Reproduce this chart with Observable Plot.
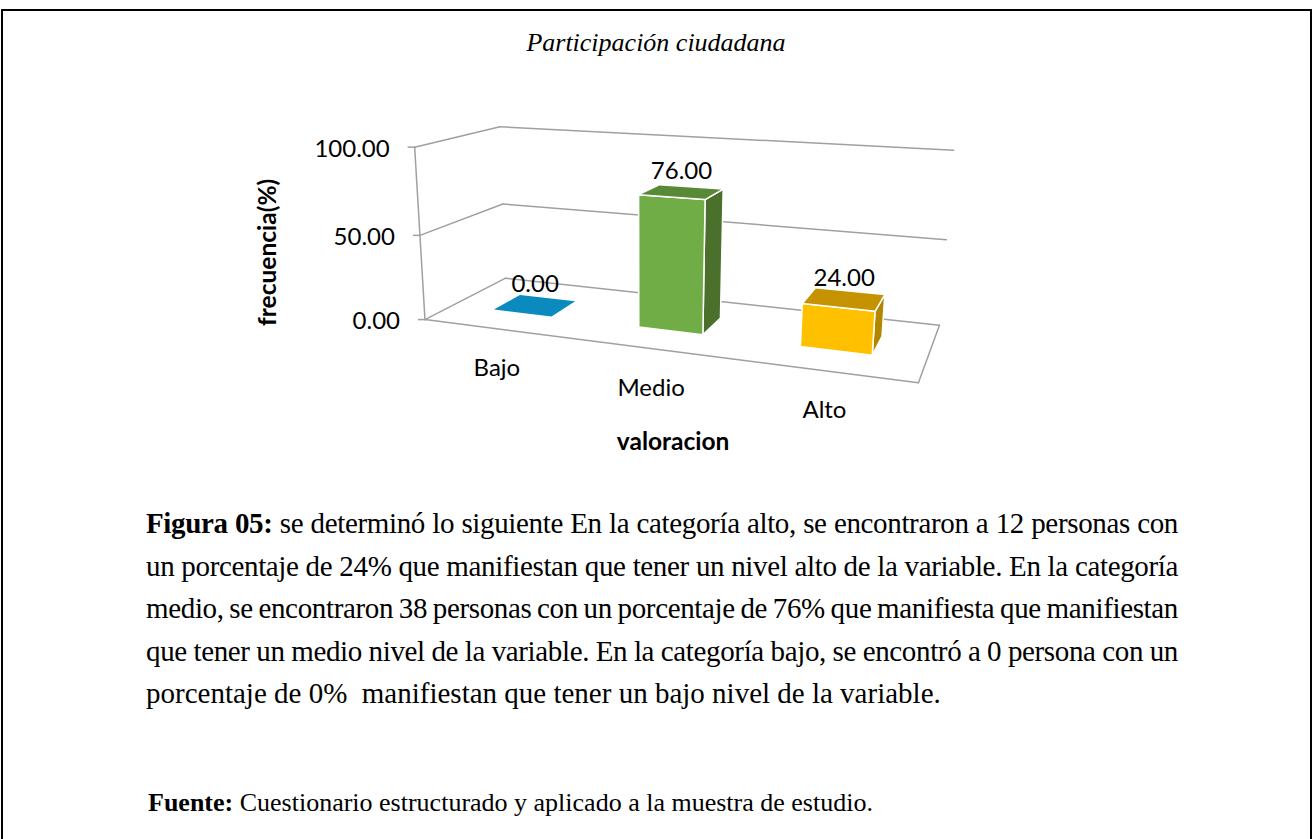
<!DOCTYPE html>
<html><head><meta charset="utf-8">
<script src="https://cdn.jsdelivr.net/npm/d3@7"></script>
<script src="https://cdn.jsdelivr.net/npm/@observablehq/plot@0.6"></script>
<style>
html,body{margin:0;padding:0;background:#fff;}
#page{position:relative;width:1312px;height:839px;overflow:hidden;background:#fff;}
#frame{position:absolute;left:1px;top:9px;width:1307px;height:900px;border:2px solid #000;border-bottom:none;}
#title{position:absolute;left:0;width:1312px;top:28px;text-align:center;font:italic 26px "Liberation Serif","Times New Roman",serif;color:#000;}
#chart{position:absolute;left:0;top:0;}
#caption{position:absolute;left:146px;top:502px;width:1032px;font:29px "Liberation Serif","Times New Roman",serif;color:#000;}
#caption div{height:42.5px;line-height:42.5px;letter-spacing:-0.35px;word-spacing:-2px;text-align:justify;text-align-last:justify;}
#caption div.last{letter-spacing:0;word-spacing:0;text-align-last:left;}
#source{position:absolute;left:148px;top:788px;font:26px "Liberation Serif","Times New Roman",serif;color:#000;}
</style></head>
<body><div id="page">
<div id="frame"></div>
<div id="chart"></div>
<div id="title">Participación ciudadana</div>
<div id="caption">
<div><b>Figura 05:</b> se determinó lo siguiente En la categoría alto, se encontraron a 12 personas con</div>
<div>un porcentaje de 24% que manifiestan que tener un nivel alto de la variable. En la categoría</div>
<div>medio, se encontraron 38 personas con un porcentaje de 76% que manifiesta que manifiestan</div>
<div>que tener un medio nivel de la variable. En la categoría bajo, se encontró a 0 persona con un</div>
<div class="last">porcentaje de 0%&nbsp; manifiestan que tener un bajo nivel de la variable.</div>
</div>
<div id="source"><b>Fuente:</b> Cuestionario estructurado y aplicado a la muestra de estudio.</div>
</div>
<script>
// ---- data ----
const categories = ["Bajo", "Medio", "Alto"];
const values = [0, 76, 24];
const yTicks = [0, 50, 100];
const yTickLabels = ["0.00", "50.00", "100.00"];
const xTitle = "valoracion";
const yTitle = "frecuencia(%)";

// ---- styles ----
const palette = [
  {front: "#1a9ad6", side: "#0a6e99", top: "#0b8ac0"},
  {front: "#70ad47", side: "#4a702c", top: "#588937"},
  {front: "#ffc000", side: "#b38600", top: "#c59300"}
];
const gridColor = "#a0a0a0";
const font = "Lato, 'Open Sans', sans-serif";

// ---- 3D view: perspective camera (homogeneous 3x4) mapping the unit world box
// (X across categories, Y value share, Z depth front->back) onto the page ----
const camera = [
  [345.754, -29.0440, 153.964, 424.493],
  [1.63605, -179.075, -1.11097, 319.102],
  [-0.160895, -0.0451662, 0.145188, 1]
];
function proj(X, Y, Z) {
  const h = camera.map(r => r[0]*X + r[1]*Y + r[2]*Z + r[3]);
  return {x: h[0]/h[2], y: h[1]/h[2]};
}

// world scales
const xWorld = d3.scaleBand().domain(categories).range([0, 1]);
const yWorld = d3.scaleLinear().domain([0, 100]).range([0, 1]);
const barFrac = 0.41, z0 = 0.33, z1 = 0.67;

// ---- derived geometry ----
const lines = [];
yTicks.forEach(t => {
  const y = yWorld(t);
  lines.push([proj(0, y, 0), proj(0, y, 1)]);   // side wall gridline
  lines.push([proj(0, y, 1), proj(1, y, 1)]);   // back wall gridline
});
lines.push([proj(0, 0, 0), proj(0, 1, 0)]);     // value axis
lines.push([proj(0, 0, 0), proj(1, 0, 0)]);     // floor front edge
lines.push([proj(1, 0, 0), proj(1, 0, 1)]);     // floor right edge
const lineData = lines.flatMap((l, i) => l.map(p => ({...p, id: i})));
const tickData = yTicks.map((t, i) => ({...proj(0, yWorld(t), 0), label: yTickLabels[i]}));

const faces = [];
categories.forEach((c, i) => {
  const v = yWorld(values[i]), pal = palette[i];
  const x0 = xWorld(c) + xWorld.bandwidth()*(1 - barFrac)/2, x1 = x0 + xWorld.bandwidth()*barFrac;
  if (v > 0) {
    faces.push({fill: pal.side, stroke: "#fff", pts: [proj(x1,0,z0), proj(x1,0,z1), proj(x1,v,z1), proj(x1,v,z0)]});
    faces.push({fill: pal.front, stroke: "#fff", pts: [proj(x0,0,z0), proj(x1,0,z0), proj(x1,v,z0), proj(x0,v,z0)]});
  }
  faces.push({fill: pal.top, stroke: v > 0 ? "#fff" : "none", pts: [proj(x0,v,z0), proj(x1,v,z0), proj(x1,v,z1), proj(x0,v,z1)]});
});
const valueLabels = categories.map((c, i) => ({...proj(xWorld(c) + xWorld.bandwidth()/2, yWorld(values[i]), (z0 + z1)/2), label: d3.format(".2f")(values[i])}));
const catLabels = categories.map(c => ({...proj(xWorld(c) + xWorld.bandwidth()/2, 0, 0), label: c}));
const yAxisMid = proj(0, 0.5, 0), xAxisMid = proj(0.5, 0, 0);

const W = 1312, H = 470;
const chart = Plot.plot({
  width: W, height: H, margin: 0,
  x: {domain: [0, W], range: [0, W], axis: null},
  y: {domain: [0, H], range: [0, H], axis: null},
  marks: [
    Plot.line(lineData, {x: "x", y: "y", z: "id", stroke: gridColor, strokeWidth: 1.5}),
    Plot.link(tickData, {x1: "x", y1: "y", x2: d => d.x - 7, y2: "y", stroke: gridColor, strokeWidth: 1.5}),
    ...faces.map(f => Plot.line(f.pts, {x: "x", y: "y", fill: f.fill, stroke: f.stroke, strokeWidth: 1.5, curve: "linear-closed"})),
    Plot.text(tickData, {x: "x", y: "y", text: "label", dx: -25, dy: 2, textAnchor: "end", fontSize: 24, fontFamily: font, fill: "#000"}),
    Plot.text(valueLabels, {x: "x", y: "y", text: "label", dy: -21, fontSize: 24, fontFamily: font, fill: "#000"}),
    Plot.text(catLabels, {x: "x", y: "y", text: "label", dx: 1, dy: 40, fontSize: 24, fontFamily: font, fill: "#000"}),
    Plot.text([yTitle], {x: () => yAxisMid.x, y: () => yAxisMid.y, text: d => d, dx: -152, dy: 17, rotate: -90, fontSize: 24.5, fontWeight: "bold", fontFamily: font, fill: "#000"}),
    Plot.text([xTitle], {x: () => xAxisMid.x, y: () => xAxisMid.y, text: d => d, dx: 23, dy: 94, fontSize: 24.5, fontWeight: "bold", fontFamily: font, fill: "#000"})
  ]
});
document.getElementById("chart").appendChild(chart);
</script>
</body></html>
